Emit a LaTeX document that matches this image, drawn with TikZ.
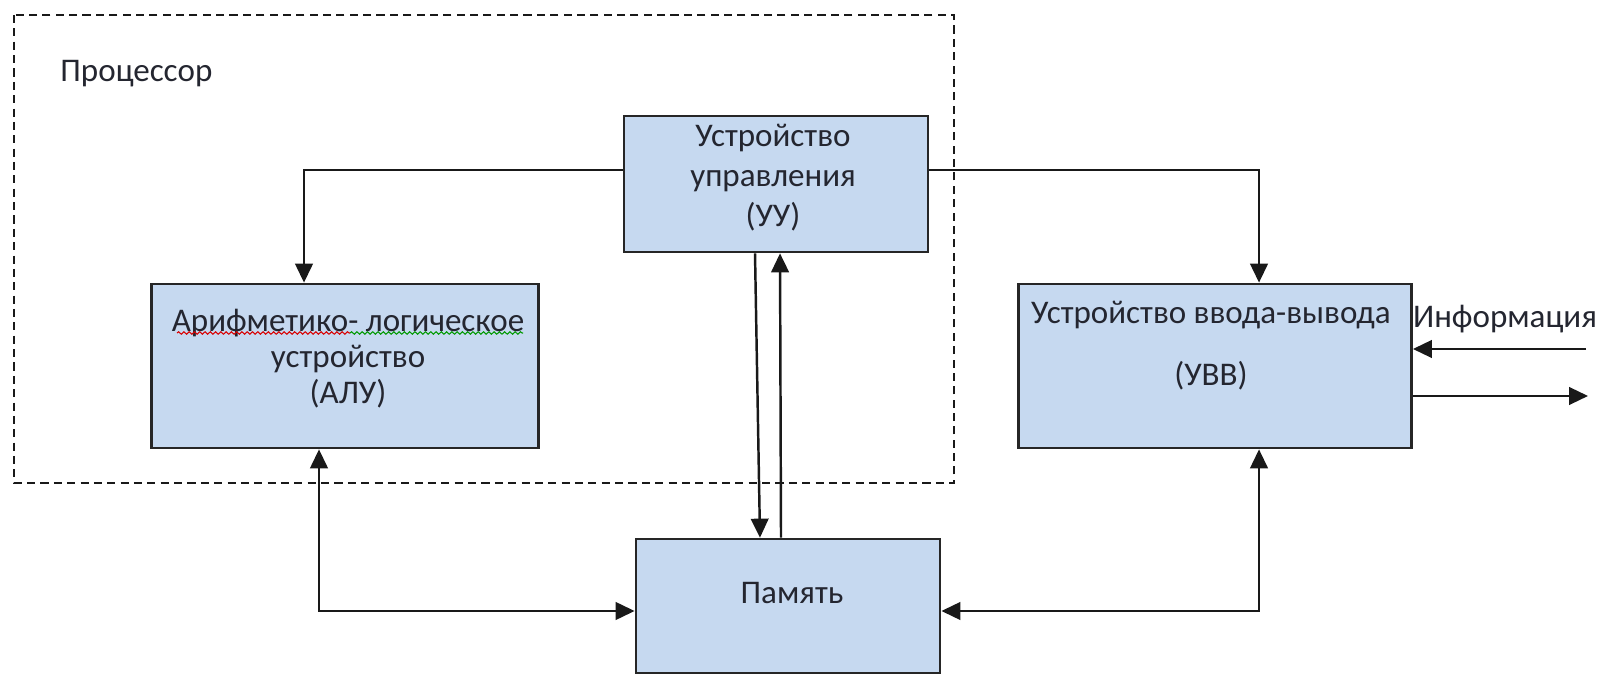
\documentclass[tikz,border=0pt]{standalone}
\usepackage{fontspec}
\setmainfont{Carlito}
\usepackage{tikz}
\usetikzlibrary{arrows.meta,decorations.pathmorphing}

\definecolor{blokfill}{RGB}{198,217,240}
\definecolor{tekst}{RGB}{36,38,48}

\begin{document}
\begin{tikzpicture}[x=0.01cm,y=-0.01cm,
    every node/.style={text=tekst,font=\fontsize{9.4}{11.4}\selectfont},
    blok/.style={draw=black!85,fill=blokfill,line width=0.75pt,inner sep=0pt},
    strelka/.style={draw=black!90,line width=0.7pt,-{Triangle[length=5.4pt,width=5pt]}},
    dvestrelki/.style={strelka,{Triangle[length=5.4pt,width=5pt]}-{Triangle[length=5.4pt,width=5pt]}},
    volna/.style={line width=0.3pt,decorate,decoration={snake,amplitude=0.35pt,segment length=1.5pt}}]
  \useasboundingbox (0,0) rectangle (1601,674);
  \draw[black!90,line width=0.75pt,dash pattern=on 2.3pt off 1.5pt] (14,15) rectangle (954,483);
  \node[anchor=west] (proc) at (48,74) {Процессор};

  \node[blok,minimum width=3.04cm,minimum height=1.36cm] (uu) at (776,184) {};
  \node[blok,minimum width=3.87cm,minimum height=1.64cm] (alu) at (345,366) {};
  \node[blok,minimum width=3.93cm,minimum height=1.64cm] (uvv) at (1215,366) {};
  \node[blok,minimum width=3.04cm,minimum height=1.34cm] (mem) at (788,606) {};

  \node[align=center,font=\fontsize{9.4}{11.4}\selectfont] (uutxt) at (773,178) {Устройство\\управления\\(УУ)};
  \node[align=center,font=\fontsize{9.4}{10.2}\selectfont] (alutxt) at (348,359) {Арифметико- логическое\\устройство\\(АЛУ)};
  \node[align=center] (uvvtxt) at (1211,346) {Устройство ввода-вывода\\[6.3pt](УВВ)};
  \node (memtxt) at (792,593) {Память};
  \node (info) at (1505,319) {Информация};

  \draw[volna,red!85!black] (177,333) -- (350,333);
  \draw[volna,green!60!black] (350,333) -- (523,333);

  \coordinate (vhod) at (1586,349);
  \coordinate (vyhod) at (1588,396);

  \draw[strelka] (uu.west |- 0,170) -| (304,0 |- alu.north);
  \draw[strelka] (uu.east |- 0,170) -| (1259,0 |- uvv.north);
  \draw[strelka] (755,0 |- uu.south) -- (760,0 |- mem.north);
  \draw[strelka] (781,0 |- mem.north) -- (780,0 |- uu.south);
  \draw[dvestrelki] (319,0 |- alu.south) |- (mem.west |- 0,611);
  \draw[dvestrelki] (1259,0 |- uvv.south) |- (mem.east |- 0,611);
  \draw[strelka] (vhod) -- (uvv.east |- vhod);
  \draw[strelka] (uvv.east |- vyhod) -- (vyhod);
\end{tikzpicture}
\end{document}
